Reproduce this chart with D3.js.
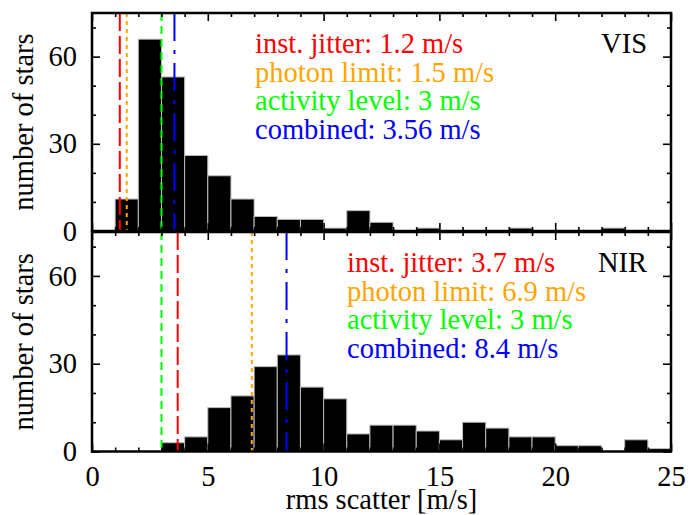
<!DOCTYPE html>
<html>
<head>
<meta charset="utf-8">
<script src="https://cdn.jsdelivr.net/npm/d3@7"></script>
<style>
  body { margin: 0; background: #fff; }
  svg text { font-family: 'Liberation Serif', 'DejaVu Serif', 'Times New Roman', serif !important; }
  .axis text { font-size: 28.5px; fill: #000; }
  .axis line { stroke: #000; stroke-width: 1.6; }
</style>
</head>
<body>
<div id="chart"></div>
<script>
// histogram bins (lower edge, m/s), width 1 m/s
const binEdges = [0,1,2,3,4,5,6,7,8,9,10,11,12,13,14,15,16,17,18,19,20,21,22,23,24];
// number of stars per bin
const visCounts = [0,11,66,53,26,19,11,5,4,4,1,7,3,0,1,0,0,0,1,0,0,0,1,0,0];
const nirCounts = [0,0,0,3,5,15,19,29,33,22,18,6,9,9,7,4,10,8,5,5,2,2,0,4,1];

// reference levels drawn as vertical lines
const levelNames = ['inst. jitter', 'photon limit', 'activity level', 'combined'];
const visLevels = [1.2, 1.5, 3, 3.56];
const nirLevels = [3.7, 6.9, 3, 8.4];

// axis ticks
const xMajor = [0, 5, 10, 15, 20, 25];
const xMinor = [1,2,3,4,6,7,8,9,11,12,13,14,16,17,18,19,21,22,23,24];
const yMajor = [0, 30, 60];
const yMinor = [10, 20, 40, 50, 70];

// styles, one per level
const levelColors = ['#ff0000', '#ffa500', '#00ff00', '#0000ff'];
const levelDash = ['18,5', '4,4', '8,5', '28,9,4,9'];

const W = 697, H = 515;
const left = 92, right = 671;
const fontSize = 28.5;

const svg = d3.select('#chart').append('svg')
    .attr('width', W)
    .attr('height', H)
    .attr('font-family', "'Liberation Serif', serif");

const x = d3.scaleLinear().domain([0, 25]).range([left, right]);

const panels = [
    {name: 'VIS', counts: visCounts, levels: visLevels, top: 13, bottom: 231, labels: false},
    {name: 'NIR', counts: nirCounts, levels: nirLevels, top: 232, bottom: 451.5, labels: true}
];

panels.forEach(p => {
    const y = d3.scaleLinear().domain([0, 75]).range([p.bottom, p.top]);
    const g = svg.append('g').attr('class', 'panel-' + p.name);

    // bars
    const bins = binEdges.map((e, i) => ({x0: e, x1: e + 1, n: p.counts[i]}));
    g.selectAll('.bin')
        .data(bins)
        .enter()
        .append('rect')
        .attr('class', 'bin')
        .attr('x', d => x(d.x0))
        .attr('width', d => x(d.x1) - x(d.x0))
        .attr('y', d => y(d.n))
        .attr('height', d => y(0) - y(d.n))
        .style('fill', '#000')
        .style('stroke', '#bdbdbd')
        .style('stroke-width', 1);

    // vertical level lines
    g.selectAll('.level')
        .data(p.levels)
        .enter()
        .append('line')
        .attr('class', 'level')
        .attr('x1', d => x(d))
        .attr('x2', d => x(d))
        .attr('y1', y(75))
        .attr('y2', y(0))
        .style('stroke', (d, i) => levelColors[i])
        .style('stroke-width', 2)
        .style('stroke-dasharray', (d, i) => levelDash[i]);

    // legend text
    const legX = p.name === 'VIS' ? 255 : 347;
    g.selectAll('.legend')
        .data(p.levels)
        .enter()
        .append('text')
        .attr('class', 'legend')
        .attr('x', legX)
        .attr('y', (d, i) => p.top + 40 + i * 28.7)
        .style('font-size', fontSize + 'px')
        .style('fill', (d, i) => levelColors[i])
        .text((d, i) => `${levelNames[i]}: ${d} m/s`);

    g.append('text')
        .attr('x', 647)
        .attr('y', p.top + 40)
        .attr('text-anchor', 'end')
        .style('font-size', fontSize + 'px')
        .text(p.name);

    // axes (ticks point inwards)
    const addAxis = (gen, tx, ty) => g.append('g')
        .attr('class', 'axis')
        .attr('transform', `translate(${tx},${ty})`)
        .call(gen)
        .call(a => a.select('.domain').remove());

    addAxis(d3.axisBottom(x).tickValues(xMajor).tickSize(-8).tickPadding(14)
        .tickFormat(p.labels ? d3.format('d') : ''), 0, p.bottom);
    addAxis(d3.axisBottom(x).tickValues(xMinor).tickSize(-4).tickFormat(''), 0, p.bottom);
    addAxis(d3.axisTop(x).tickValues(xMajor).tickSize(-8).tickFormat(''), 0, p.top);
    addAxis(d3.axisTop(x).tickValues(xMinor).tickSize(-4).tickFormat(''), 0, p.top);

    addAxis(d3.axisLeft(y).tickValues(yMajor).tickSize(-8).tickPadding(15), left, 0);
    addAxis(d3.axisLeft(y).tickValues(yMinor).tickSize(-4).tickFormat(''), left, 0);
    addAxis(d3.axisRight(y).tickValues(yMajor).tickSize(-8).tickFormat(''), right, 0);
    addAxis(d3.axisRight(y).tickValues(yMinor).tickSize(-4).tickFormat(''), right, 0);

    // frame
    g.append('rect')
        .attr('x', left)
        .attr('y', p.top)
        .attr('width', right - left)
        .attr('height', p.bottom - p.top)
        .style('fill', 'none')
        .style('stroke', '#000')
        .style('stroke-width', 2.5);

    // y label
    g.append('text')
        .attr('transform', `translate(33,${(p.top + p.bottom) / 2}) rotate(-90)`)
        .attr('text-anchor', 'middle')
        .style('font-size', fontSize + 'px')
        .text('number of stars');
});

// x label
svg.append('text')
    .attr('x', (left + right) / 2)
    .attr('y', 509)
    .attr('text-anchor', 'middle')
    .style('font-size', fontSize + 'px')
    .text('rms scatter [m/s]');
</script>
</body>
</html>
